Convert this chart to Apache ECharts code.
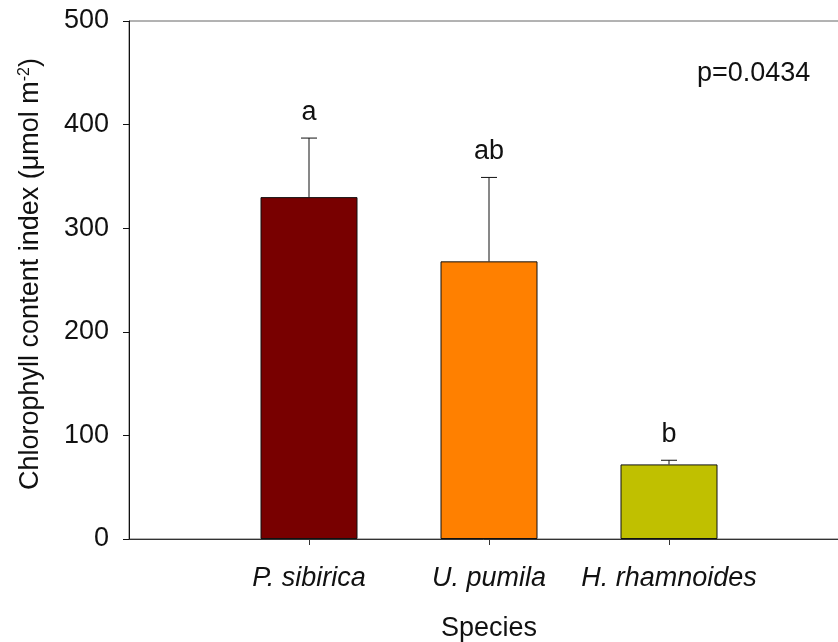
<!DOCTYPE html>
<html>
<head>
<meta charset="utf-8">
<script src="https://cdn.jsdelivr.net/npm/echarts@6/dist/echarts.min.js"></script>
<style>html,body{margin:0;padding:0;background:#fff}#c{width:838px;height:642px}</style>
</head>
<body>
<div id="c"></div>
<script>
var species = ['P. sibirica', 'U. pumila', 'H. rhamnoides'];
var means = [330, 268, 72];
var errors = [57, 81, 4];
var letters = ['a', 'ab', 'b'];
var barColors = ['#780000', '#FF8000', '#C0C000'];
var yTicks = [0, 100, 200, 300, 400, 500];
var pText = 'p=0.0434';

var FONT = '"Liberation Sans", Arial, sans-serif';
var categories = [''].concat(species).concat(['']);
var barData = [null].concat(means.map(function (v, i) {
  return { value: v, itemStyle: { color: barColors[i] } };
})).concat([null]);
var errData = species.map(function (s, i) { return [i + 1, means[i], errors[i], letters[i]]; });

var chart = echarts.init(document.getElementById('c'), null, { renderer: 'canvas' });
chart.setOption({
  animation: false,
  backgroundColor: '#fff',
  grid: { left: 129, top: 21, bottom: 103, right: -11, outerBoundsMode: 'none', containLabel: false, show: true, borderColor: '#666', borderWidth: 1, backgroundColor: 'transparent' },
  xAxis: {
    type: 'category',
    data: categories,
    boundaryGap: false,
    name: 'Species',
    nameLocation: 'middle',
    nameGap: 76,
    nameTextStyle: { fontFamily: FONT, fontSize: 27, color: '#111' },
    axisLine: { lineStyle: { color: '#333', width: 1 } },
    axisTick: { show: true, length: 6, interval: function (i) { return i > 0 && i < categories.length - 1; }, lineStyle: { color: '#333' } },
    axisLabel: { interval: 0, margin: 26, fontFamily: FONT, fontSize: 27, fontStyle: 'italic', color: '#111' },
    splitLine: { show: false }
  },
  yAxis: {
    type: 'value',
    min: yTicks[0],
    max: yTicks[yTicks.length - 1],
    interval: yTicks[1] - yTicks[0],
    name: 'Chlorophyll content index (μmol m{sup|-2})',
    nameLocation: 'middle',
    nameRotate: 90,
    nameGap: 84,
    nameTextStyle: {
      fontFamily: FONT, fontSize: 27, color: '#111', padding: [0, 0, 0, 12],
      rich: { sup: { fontFamily: FONT, fontSize: 16, color: '#111', verticalAlign: 'top', padding: [0, 0, 12, 0] } }
    },
    axisLine: { show: true, lineStyle: { color: '#111', width: 1 } },
    axisTick: { show: true, length: 6, lineStyle: { color: '#111' } },
    axisLabel: { margin: 20, fontFamily: FONT, fontSize: 27, color: '#111' },
    splitLine: { show: false }
  },
  graphic: [{
    type: 'text',
    left: 697,
    top: 60,
    style: { text: pText, fontFamily: FONT, fontSize: 27, fill: '#111' }
  }],
  series: [{
    type: 'bar',
    data: barData,
    barWidth: 97,
    itemStyle: { borderColor: '#111', borderWidth: 1 },
    z: 2
  }, {
    type: 'custom',
    data: errData,
    z: 3,
    renderItem: function (params, api) {
      var x = api.value(0), m = api.value(1), e = api.value(2);
      var base = api.coord([x, m]);
      var top = api.coord([x, m + e]);
      var half = 8;
      return {
        type: 'group',
        children: [
          { type: 'line', shape: { x1: base[0], y1: base[1], x2: top[0], y2: top[1] }, style: { stroke: '#111', lineWidth: 1 } },
          { type: 'line', shape: { x1: top[0] - half, y1: top[1], x2: top[0] + half, y2: top[1] }, style: { stroke: '#111', lineWidth: 1 } },
          { type: 'text', x: top[0], y: top[1] - 26, style: { text: errData[params.dataIndex][3], fontFamily: FONT, fontSize: 27, fill: '#111', align: 'center', verticalAlign: 'middle' } }
        ]
      };
    }
  }]
});
</script>
</body>
</html>
